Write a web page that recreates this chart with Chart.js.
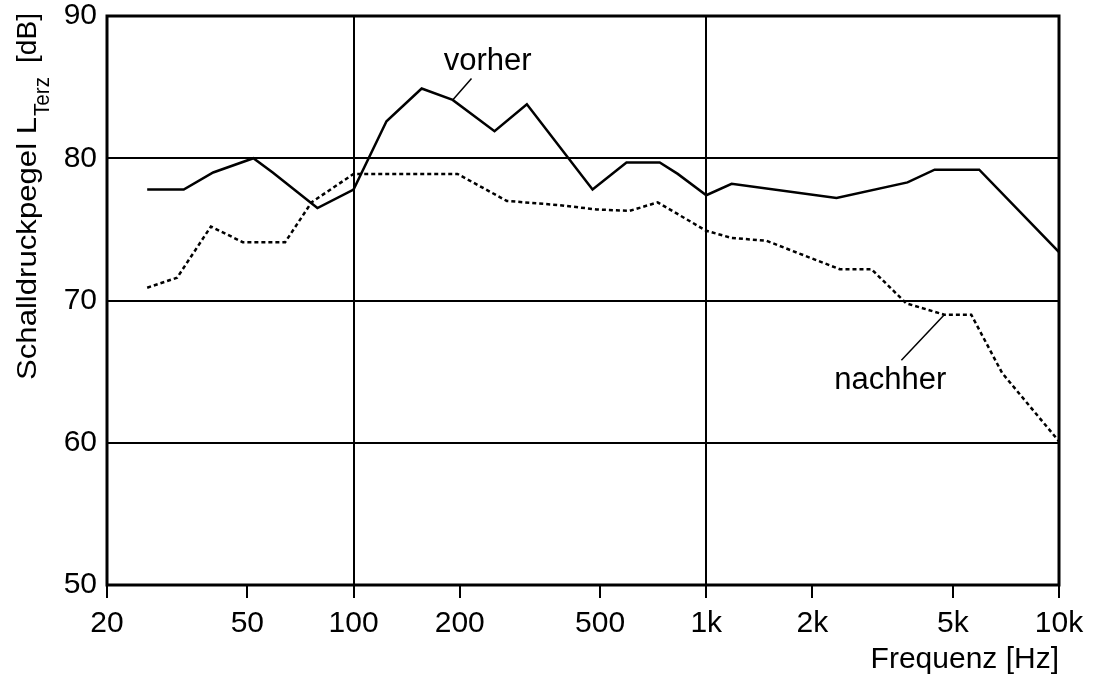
<!DOCTYPE html>
<html>
<head>
<meta charset="utf-8">
<title>Schalldruckpegel vorher / nachher</title>
<script src="https://cdn.jsdelivr.net/npm/chart.js@4.4.1/dist/chart.umd.min.js"></script>
<style>
  html, body { margin: 0; padding: 0; background: #fff; }
  #wrap { width: 1106px; height: 678px; }
</style>
</head>
<body>
<div id="wrap"><canvas id="chart" width="1106" height="678"></canvas></div>
<script>
/* ---------- data ---------- */
const vorherFreq  = [26, 33, 40, 52, 59, 79, 100, 124, 156, 191, 251, 310, 476, 594, 738, 830, 1000, 1180, 2340, 3720, 4440, 5940, 10000];
const vorherLevel = [77.8, 77.8, 79.0, 80.0, 79.0, 76.5, 77.8, 82.6, 84.9, 84.1, 81.9, 83.8, 77.8, 79.7, 79.7, 78.9, 77.4, 78.2, 77.2, 78.3, 79.2, 79.2, 73.4];

const nachherFreq  = [26, 31.6, 39.4, 48.5, 64, 76, 100, 197, 272, 384, 489, 606, 728, 1000, 1180, 1480, 2390, 2940, 3690, 4730, 5640, 6900, 10000];
const nachherLevel = [70.9, 71.6, 75.2, 74.1, 74.1, 76.9, 78.9, 78.9, 77.0, 76.7, 76.4, 76.3, 76.9, 74.9, 74.4, 74.2, 72.2, 72.2, 69.8, 69.0, 69.0, 64.9, 60.1];

const xTicks      = [20, 50, 100, 200, 500, 1000, 2000, 5000, 10000];
const xTickLabels = ['20', '50', '100', '200', '500', '1k', '2k', '5k', '10k'];
const yTicks      = [50, 60, 70, 80, 90];
const xGridAt     = [100, 1000];
const yGridAt     = [60, 70, 80];

/* callouts: [Hz, dB] */
const callouts = [
  { text: 'vorher',  at: [240, 86.8],  from: [216, 85.6],  to: [191, 84.1] },
  { text: 'nachher', at: [3326, 64.4], from: [3574, 65.8], to: [4730, 69.0] }
];

const FONT = '"Liberation Sans", Arial, Helvetica, sans-serif';

/* ---------- helpers ---------- */
const pts = (xs, ys) => xs.map((x, i) => ({ x: x, y: ys[i] }));

/* frame round the plot area */
const framePlugin = {
  id: 'frame',
  afterDraw(chart) {
    const a = chart.chartArea, ctx = chart.ctx;
    ctx.save();
    ctx.strokeStyle = '#000';
    ctx.lineWidth = 3;
    ctx.strokeRect(a.left, a.top, a.right - a.left, a.bottom - a.top);
    ctx.restore();
  }
};

/* rotated y title, drawn in pieces so the subscript sits right */
function drawUp(ctx, text, font, x, yFrom, yTo) {
  ctx.save();
  ctx.font = font;
  const w = ctx.measureText(text).width;
  ctx.translate(x, yFrom);
  ctx.rotate(-Math.PI / 2);
  ctx.scale((yFrom - yTo) / w, 1);
  ctx.fillText(text, 0, 0);
  ctx.restore();
}

const yTitlePlugin = {
  id: 'yTitle',
  afterDraw(chart) {
    const ctx = chart.ctx;
    ctx.save();
    ctx.fillStyle = '#000';
    ctx.textAlign = 'left';
    ctx.textBaseline = 'alphabetic';
    drawUp(ctx, 'Schalldruckpegel L', '28px ' + FONT, 36, 380, 117);
    drawUp(ctx, 'Terz', '22px ' + FONT, 49, 116, 77);
    drawUp(ctx, '[dB]', '28px ' + FONT, 36, 63, 13);
    ctx.restore();
  }
};

/* vorher / nachher labels with leader lines */
const calloutPlugin = {
  id: 'callouts',
  afterDatasetsDraw(chart) {
    const ctx = chart.ctx, sx = chart.scales.x, sy = chart.scales.y;
    ctx.save();
    ctx.fillStyle = '#000';
    ctx.strokeStyle = '#000';
    ctx.lineWidth = 1.5;
    ctx.font = '31px ' + FONT;
    ctx.textAlign = 'center';
    ctx.textBaseline = 'middle';
    callouts.forEach(c => {
      ctx.fillText(c.text, sx.getPixelForValue(c.at[0]), sy.getPixelForValue(c.at[1]));
      ctx.beginPath();
      ctx.moveTo(sx.getPixelForValue(c.from[0]), sy.getPixelForValue(c.from[1]));
      ctx.lineTo(sx.getPixelForValue(c.to[0]), sy.getPixelForValue(c.to[1]));
      ctx.stroke();
    });
    ctx.restore();
  }
};

/* ---------- chart ---------- */
new Chart(document.getElementById('chart'), {
  type: 'line',
  data: {
    datasets: [
      {
        label: 'vorher',
        data: pts(vorherFreq, vorherLevel),
        borderColor: '#000',
        borderWidth: 2.5,
        pointRadius: 0,
        tension: 0,
        fill: false
      },
      {
        label: 'nachher',
        data: pts(nachherFreq, nachherLevel),
        borderColor: '#000',
        borderWidth: 2.5,
        borderDash: [4, 3],
        pointRadius: 0,
        tension: 0,
        fill: false
      }
    ]
  },
  options: {
    responsive: false,
    animation: false,
    layout: { padding: { left: 0, right: 47, top: 16, bottom: 0 } },
    plugins: {
      legend: { display: false },
      tooltip: { enabled: false }
    },
    scales: {
      x: {
        type: 'logarithmic',
        min: 20,
        max: 10000,
        afterBuildTicks: s => { s.ticks = xTicks.map(v => ({ value: v })); },
        afterFit: s => { s.height = 93; s.paddingLeft = 0; s.paddingRight = 0; },
        border: { display: false },
        grid: {
          color: c => (c.tick && xGridAt.includes(c.tick.value)) ? '#000' : 'rgba(0,0,0,0)',
          lineWidth: 2,
          drawTicks: true,
          tickLength: 13,
          tickColor: '#000',
          tickWidth: 2
        },
        ticks: {
          callback: (v, i) => xTickLabels[i],
          autoSkip: false,
          maxRotation: 0,
          padding: 8,
          color: '#000',
          font: { family: FONT, size: 30 }
        },
        title: {
          display: true,
          text: 'Frequenz [Hz]',
          align: 'end',
          color: '#000',
          font: { family: FONT, size: 30 },
          padding: { top: 0, bottom: 0 }
        }
      },
      y: {
        min: 50,
        max: 90,
        afterBuildTicks: s => { s.ticks = yTicks.map(v => ({ value: v })); },
        afterFit: s => { s.width = 107; s.paddingTop = 0; s.paddingBottom = 0; },
        border: { display: false },
        grid: {
          color: c => (c.tick && yGridAt.includes(c.tick.value)) ? '#000' : 'rgba(0,0,0,0)',
          lineWidth: 2,
          drawTicks: false
        },
        ticks: {
          padding: 10,
          color: '#000',
          font: { family: FONT, size: 30 }
        }
      }
    }
  },
  plugins: [calloutPlugin, framePlugin, yTitlePlugin]
});
</script>
</body>
</html>
